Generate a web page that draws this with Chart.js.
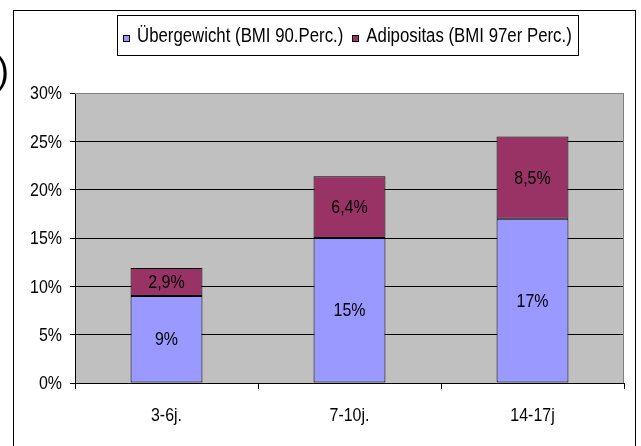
<!DOCTYPE html>
<html>
<head>
<meta charset="utf-8">
<script src="https://cdn.jsdelivr.net/npm/chart.js@4/dist/chart.umd.min.js"></script>
<style>
  html, body { margin: 0; padding: 0; background: #fff; }
  canvas { display: block; }
</style>
</head>
<body>
<canvas id="c" width="641" height="446"></canvas>
<script>
// Age groups and prevalence (percent) per group
const categories = ['3-6j.', '7-10j.', '14-17j'];
const uebergewicht = [9, 15, 17];
const adipositas = [2.9, 6.4, 8.5];
const seriesNames = ['Übergewicht (BMI 90.Perc.)', 'Adipositas (BMI 97er Perc.)'];
const seriesColors = ['#9999FF', '#993366'];
const yMax = 30;
const yStep = 5;

const FONT_FAMILY = '"Liberation Sans", Arial, sans-serif';
const NARROW = 0.84; // horizontal squeeze giving a condensed Arial look

function pct(v) {
  return String(v).replace('.', ',') + '%';
}

// condensed text: draw with a horizontal scale around the anchor point
function narrowText(ctx, text, x, y, align, baseline, size, squeeze) {
  ctx.save();
  ctx.font = size + 'px ' + FONT_FAMILY;
  ctx.textAlign = align;
  ctx.textBaseline = baseline;
  ctx.translate(x, y);
  ctx.scale(squeeze || NARROW, 1);
  ctx.fillText(text, 0, 0);
  ctx.restore();
}
function narrowWidth(ctx, text, size, squeeze) {
  ctx.save();
  ctx.font = size + 'px ' + FONT_FAMILY;
  const w = ctx.measureText(text).width * (squeeze || NARROW);
  ctx.restore();
  return w;
}

// Grey plot background, plot frame, axis texts, value labels, boxed legend and outer border
const decorations = {
  id: 'decorations',
  beforeDraw(chart) {
    const { ctx, chartArea: a } = chart;
    ctx.save();
    ctx.fillStyle = '#fff';
    ctx.fillRect(0, 0, chart.width, chart.height);
    ctx.fillStyle = '#C0C0C0';
    ctx.fillRect(a.left, a.top, a.right - a.left, a.bottom - a.top);
    ctx.restore();
  },
  beforeDatasetsDraw(chart) {
    const { ctx, chartArea: a } = chart;
    ctx.save();
    ctx.strokeStyle = '#808080';
    ctx.lineWidth = 1;
    ctx.beginPath();
    ctx.moveTo(a.left, Math.round(a.top) + 0.5);
    ctx.lineTo(Math.round(a.right) - 0.5, Math.round(a.top) + 0.5);
    ctx.lineTo(Math.round(a.right) - 0.5, a.bottom);
    ctx.stroke();
    ctx.restore();
  },
  afterDraw(chart) {
    const ctx = chart.ctx;
    const xs = chart.scales.x, ys = chart.scales.y;
    ctx.save();
    ctx.fillStyle = '#000';

    // y tick labels
    ys.ticks.forEach(t => {
      narrowText(ctx, t.value + '%', ys.right - 13, ys.getPixelForValue(t.value) + 1, 'right', 'middle', 19);
    });
    // category labels
    categories.forEach((c, i) => {
      narrowText(ctx, c, xs.getPixelForTick(i), 416, 'center', 'middle', 19);
    });

    // value labels centred in each segment
    chart.data.datasets.forEach((ds, di) => {
      chart.getDatasetMeta(di).data.forEach((bar, i) => {
        const p = bar.getProps(['x', 'y', 'base'], true);
        narrowText(ctx, pct(ds.data[i]), p.x, (p.y + p.base) / 2 + 1, 'center', 'middle', 19);
      });
    });

    // boxed legend
    const legSize = 20;
    const boxL = 117, boxT = 15, boxB = 55;
    const baseY = 42;
    let x = boxL + 6;
    const parts = [];
    seriesNames.forEach((name, i) => {
      parts.push({ sx: x, name, color: seriesColors[i], tx: x + 14 });
      x = x + 14 + narrowWidth(ctx, name, legSize) + 9;
    });
    const boxR = Math.round(x - 9 + 6);
    ctx.fillStyle = '#fff';
    ctx.fillRect(boxL, boxT, boxR - boxL, boxB - boxT);
    ctx.strokeStyle = '#000';
    ctx.lineWidth = 1;
    ctx.strokeRect(boxL + 0.5, boxT + 0.5, boxR - boxL, boxB - boxT);
    parts.forEach(p => {
      const sx = Math.round(p.sx);
      ctx.fillStyle = p.color;
      ctx.fillRect(sx + 0.5, baseY - 6.5, 6, 6);
      ctx.strokeStyle = '#000';
      ctx.strokeRect(sx + 0.5, baseY - 6.5, 6, 6);
      ctx.fillStyle = '#000';
      narrowText(ctx, p.name, p.tx, baseY, 'left', 'alphabetic', legSize);
    });

    // outer frame of the chart object
    ctx.strokeStyle = '#000';
    ctx.lineWidth = 1;
    ctx.strokeRect(13.5, 10.5, 622, 460);

    // trailing bracket of the heading text at the left edge
    ctx.fillStyle = '#000';
    narrowText(ctx, ')', -3, 83, 'left', 'alphabetic', 36, 1);

    ctx.restore();
  }
};

new Chart(document.getElementById('c'), {
  type: 'bar',
  data: {
    labels: categories,
    datasets: [
      {
        label: seriesNames[0],
        data: uebergewicht,
        backgroundColor: seriesColors[0],
        borderColor: '#000',
        borderWidth: 1,
        borderSkipped: false,
        barPercentage: 0.393,
        categoryPercentage: 1.0
      },
      {
        label: seriesNames[1],
        data: adipositas,
        backgroundColor: seriesColors[1],
        borderColor: '#000',
        borderWidth: 1,
        borderSkipped: false,
        barPercentage: 0.393,
        categoryPercentage: 1.0
      }
    ]
  },
  options: {
    responsive: false,
    animation: false,
    events: [],
    layout: { padding: { left: 0, top: 93, right: 17, bottom: 0 } },
    plugins: {
      legend: { display: false },
      tooltip: { enabled: false }
    },
    scales: {
      x: {
        stacked: true,
        afterFit(scale) { scale.height = 63; },
        grid: {
          display: true,
          drawOnChartArea: false,
          drawTicks: true,
          tickLength: 6,
          offset: true,
          color: '#000'
        },
        border: { color: '#000', width: 1 },
        ticks: { display: false }
      },
      y: {
        stacked: true,
        min: 0,
        max: yMax,
        afterFit(scale) { scale.width = 75; },
        grid: {
          color: ctx => (ctx.tick && ctx.tick.value === yMax ? '#808080' : '#000'),
          tickColor: '#000',
          tickLength: 5,
          lineWidth: 1
        },
        border: { color: '#000', width: 1 },
        ticks: { display: false, stepSize: yStep }
      }
    }
  },
  plugins: [decorations]
});
</script>
</body>
</html>
